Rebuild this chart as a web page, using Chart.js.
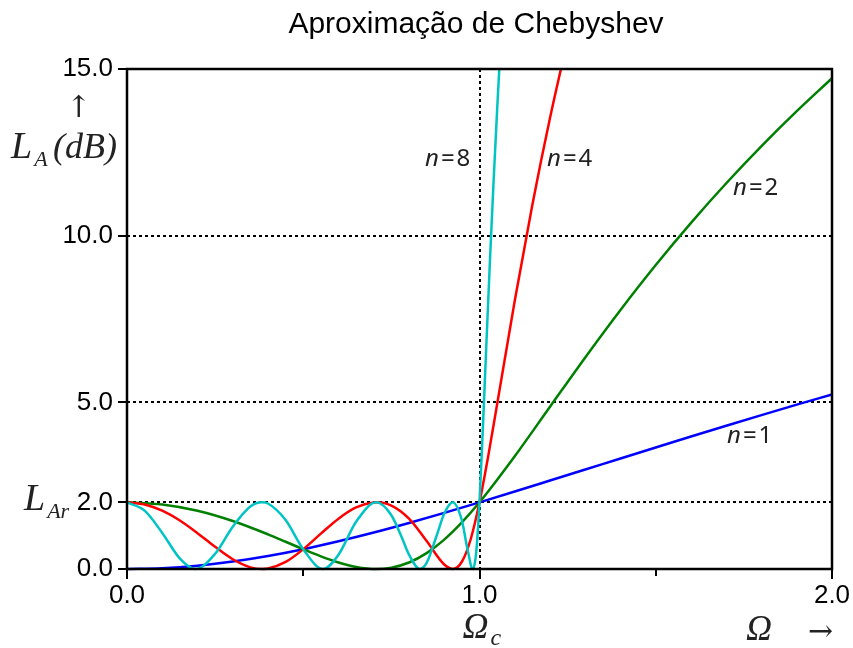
<!DOCTYPE html>
<html>
<head>
<meta charset="utf-8">
<script src="https://cdn.jsdelivr.net/npm/chart.js@4.4.1/dist/chart.umd.min.js"></script>
<style>
  html, body { margin: 0; padding: 0; background: #fff; }
</style>
</head>
<body>
<canvas id="myChart" width="853" height="648"></canvas>
<script>
// values, loss in dB against normalised frequency
const omega1 = [0, 0.1, 0.2, 0.3, 0.4, 0.5, 0.6, 0.7, 0.8, 0.9, 1.0, 1.1, 1.2, 1.3, 1.4, 1.5, 1.6, 1.7, 1.8, 1.9, 2.0];
const loss1 = [0, 0.025, 0.100, 0.223, 0.389, 0.593, 0.830, 1.094, 1.381, 1.684, 2.000, 2.324, 2.654, 2.985, 3.317, 3.647, 3.975, 4.298, 4.617, 4.930, 5.237];

const omega2 = [0, 0.1, 0.2, 0.3, 0.4, 0.45, 0.5, 0.55, 0.6, 0.65, 0.707, 0.75, 0.8, 0.85, 0.9, 0.95, 1.0, 1.1, 1.2, 1.3, 1.4, 1.5, 1.6, 1.7, 1.8, 1.9, 2.0];
const loss2 = [2.000, 1.936, 1.747, 1.440, 1.040, 0.817, 0.593, 0.379, 0.195, 0.061, 0, 0.040, 0.195, 0.476, 0.881, 1.396, 2.000, 3.383, 4.868, 6.348, 7.772, 9.120, 10.385, 11.573, 12.687, 13.734, 14.722];

const omega4 = [0, 0.05, 0.1, 0.15, 0.2, 0.25, 0.3, 0.35, 0.383, 0.4, 0.45, 0.5, 0.55, 0.6, 0.65, 0.7, 0.707, 0.75, 0.8, 0.85, 0.9, 0.924, 0.95, 0.975, 1.0, 1.025, 1.05, 1.1, 1.15, 1.2, 1.25];
const loss4 = [2.000, 1.936, 1.749, 1.453, 1.075, 0.664, 0.292, 0.050, 0, 0.014, 0.211, 0.593, 1.061, 1.510, 1.847, 1.997, 2.000, 1.900, 1.510, 0.840, 0.134, 0, 0.217, 0.892, 2.000, 3.402, 4.942, 8.048, 10.929, 13.530, 15.880];

const omega8 = [0, 0.05, 0.1, 0.15, 0.195, 0.25, 0.3, 0.35, 0.383, 0.4, 0.45, 0.5, 0.556, 0.6, 0.65, 0.707, 0.75, 0.78, 0.8, 0.831, 0.85, 0.88, 0.9, 0.924, 0.95, 0.965, 0.981, 0.99, 1.0, 1.01, 1.02, 1.03, 1.04, 1.05, 1.06];
const loss8 = [2.000, 1.750, 1.083, 0.314, 0, 0.457, 1.271, 1.875, 2.000, 1.964, 1.469, 0.593, 0, 0.430, 1.418, 2.000, 1.613, 0.937, 0.430, 0, 0.182, 1.050, 1.663, 2.000, 1.455, 0.648, 0, 0.435, 2.000, 4.330, 6.872, 9.339, 11.642, 13.775, 15.754];

const xTicks = [0, 1, 2];
const xMinorTicks = [0.5, 1.5];
const yTicks = [0, 2, 5, 10, 15];
const xGrid = [1];
const yGrid = [2, 5, 10];

function points(xs, ys) {
  return xs.map((v, i) => ({ x: v, y: ys[i] }));
}

function series(label, xs, ys, color) {
  return {
    label: label,
    data: points(xs, ys),
    borderColor: color,
    borderWidth: 2.5,
    pointRadius: 0,
    fill: false,
    cubicInterpolationMode: 'monotone',
    clip: { left: 4, right: 4, top: 0, bottom: 4 }
  };
}

// italic "L" style labels with a subscript
function subLabel(ctx, main, sub, x, y, mainSize, subSize, drop) {
  ctx.font = 'italic ' + mainSize + 'px "Liberation Serif", serif';
  ctx.fillText(main, x, y);
  const w = ctx.measureText(main).width;
  ctx.font = 'italic ' + subSize + 'px "Liberation Serif", serif';
  ctx.fillText(sub, x + w + 2, y + drop);
}

function curveLabel(ctx, n, x, y) {
  ctx.font = 'italic 24px "Noto Sans", sans-serif';
  ctx.fillText('n', x, y);
  let cx = x + ctx.measureText('n').width + 2;
  ctx.font = '24px "Noto Sans", sans-serif';
  ctx.fillText('=', cx, y);
  cx += ctx.measureText('=').width + 2;
  ctx.fillText(n, cx, y);
}

const overlay = {
  id: 'overlay',
  beforeDatasetsDraw(chart) {
    const { ctx, chartArea: a, scales: { x, y } } = chart;
    ctx.save();
    ctx.strokeStyle = '#000';
    ctx.lineWidth = 2;
    ctx.setLineDash([3, 3]);
    yGrid.forEach(v => {
      const py = Math.round(y.getPixelForValue(v));
      ctx.beginPath(); ctx.moveTo(a.left, py); ctx.lineTo(a.right, py); ctx.stroke();
    });
    xGrid.forEach(v => {
      const px = Math.round(x.getPixelForValue(v));
      ctx.beginPath(); ctx.moveTo(px, a.top); ctx.lineTo(px, a.bottom); ctx.stroke();
    });
    ctx.restore();
  },
  afterDatasetsDraw(chart) {
    const { ctx, chartArea: a, scales: { x, y } } = chart;
    ctx.save();
    ctx.strokeStyle = '#000';
    ctx.lineWidth = 2.5;
    ctx.strokeRect(a.left, a.top, a.right - a.left, a.bottom - a.top);

    // tick marks
    ctx.lineWidth = 2;
    yTicks.forEach(v => {
      const py = Math.round(y.getPixelForValue(v));
      ctx.beginPath(); ctx.moveTo(a.left - 9, py); ctx.lineTo(a.left, py); ctx.stroke();
    });
    xTicks.forEach(v => {
      const px = Math.round(x.getPixelForValue(v));
      ctx.beginPath(); ctx.moveTo(px, a.bottom); ctx.lineTo(px, a.bottom + 10); ctx.stroke();
    });
    xMinorTicks.forEach(v => {
      const px = Math.round(x.getPixelForValue(v));
      ctx.beginPath(); ctx.moveTo(px, a.bottom); ctx.lineTo(px, a.bottom + 7); ctx.stroke();
    });

    ctx.fillStyle = '#000';
    ctx.textBaseline = 'alphabetic';

    // title
    ctx.textAlign = 'center';
    ctx.font = '30px "Liberation Sans", Arial, sans-serif';
    ctx.fillText('Aproximação de Chebyshev', 476, 33);

    ctx.textAlign = 'left';
    ctx.fillStyle = '#222';
    // y axis name
    ctx.font = '30px "DejaVu Serif", serif';
    ctx.fillText('↑', 66, 117);
    subLabel(ctx, 'L', 'A', 11, 158, 38, 22, 8);
    ctx.font = 'italic 36px "Liberation Serif", serif';
    ctx.fillText('(dB)', 53, 158);

    // ripple level
    subLabel(ctx, 'L', 'Ar', 24, 510, 38, 22, 8);

    // cut-off frequency and x axis name
    const pc = x.getPixelForValue(1);
    subLabel(ctx, 'Ω', 'c', pc - 17, 638, 36, 24, 7);
    ctx.font = 'italic 36px "Liberation Serif", serif';
    ctx.fillText('Ω', 746, 640);
    ctx.font = '30px "DejaVu Serif", serif';
    ctx.fillText('→', 808, 641);

    // curve labels
    curveLabel(ctx, '8', 425, 166);
    curveLabel(ctx, '4', 547, 166);
    curveLabel(ctx, '2', 733, 195);
    curveLabel(ctx, '1', 727, 443);
    ctx.restore();
  }
};

const ctx = document.getElementById('myChart');
new Chart(ctx, {
  type: 'line',
  data: {
    datasets: [
      series('n=8', omega8, loss8, 'rgb(0, 196, 196)'),
      series('n=4', omega4, loss4, 'rgb(255, 0, 0)'),
      series('n=2', omega2, loss2, 'rgb(0, 128, 0)'),
      series('n=1', omega1, loss1, 'rgb(0, 0, 255)')
    ]
  },
  options: {
    responsive: false,
    animation: false,
    layout: { padding: { left: 0, right: 21, top: 69, bottom: 0 } },
    plugins: {
      legend: { display: false },
      tooltip: { enabled: false },
      title: { display: false }
    },
    scales: {
      x: {
        type: 'linear',
        min: 0,
        max: 2,
        afterBuildTicks: scale => { scale.ticks = xTicks.map(v => ({ value: v })); },
        afterFit: scale => {
          scale.height = 79;
          scale.paddingLeft = 0;
          scale.paddingRight = 0;
        },
        grid: { display: false, drawTicks: false },
        border: { display: false },
        ticks: {
          color: '#000',
          padding: 11,
          maxRotation: 0,
          font: { family: '"Liberation Sans", Arial, sans-serif', size: 26 },
          callback: v => v.toFixed(1)
        }
      },
      y: {
        type: 'linear',
        min: 0,
        max: 15,
        afterBuildTicks: scale => { scale.ticks = yTicks.map(v => ({ value: v })); },
        afterFit: scale => { scale.width = 127; },
        grid: { display: false, drawTicks: false },
        border: { display: false },
        ticks: {
          color: '#000',
          padding: 14,
          font: { family: '"Liberation Sans", Arial, sans-serif', size: 26 },
          callback: v => v.toFixed(1)
        }
      }
    }
  },
  plugins: [overlay]
});
</script>
</body>
</html>
